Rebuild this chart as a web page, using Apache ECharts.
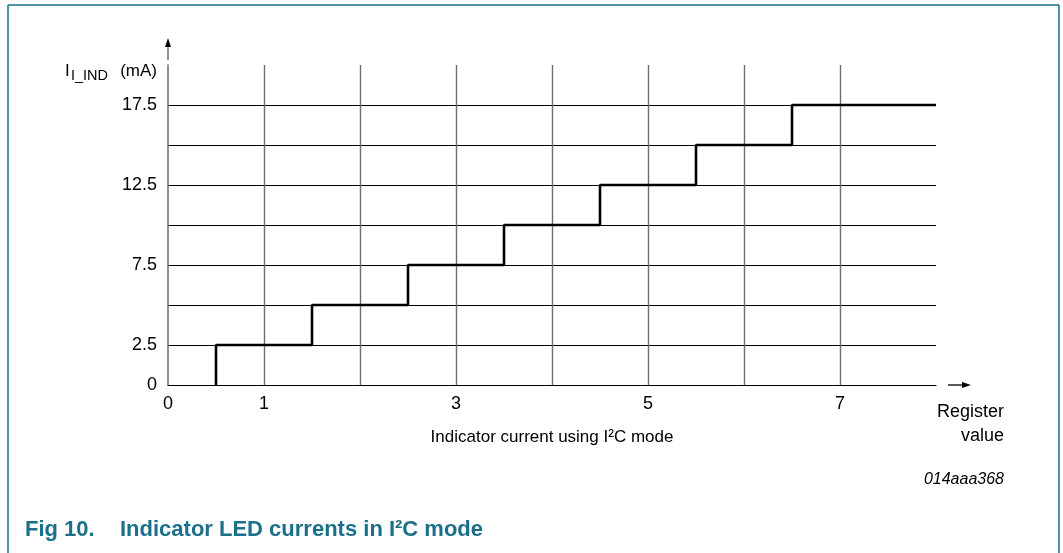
<!DOCTYPE html>
<html><head><meta charset="utf-8">
<script src="https://cdn.jsdelivr.net/npm/echarts@6/dist/echarts.min.js"></script>
<style>html,body{margin:0;padding:0;background:#fff}#c{width:1063px;height:553px}</style>
</head><body><div id="c"></div>
<script>
const registers = [1, 2, 3, 4, 5, 6, 7];
const currents = [2.5, 5, 7.5, 10, 12.5, 15, 17.5];
const xTickLabels = ['0', '1', '3', '5', '7'];
const yTickLabels = ['0', '2.5', '7.5', '12.5', '17.5'];
const xMax = 8, yMax = 20;

// build step path from data
const stepPts = [];
let prev = 0;
registers.forEach((r, i) => {
  stepPts.push([r - 0.5, prev]);
  stepPts.push([r - 0.5, currents[i]]);
  prev = currents[i];
});
stepPts.push([xMax, prev]);

const teal = '#1b6f88';
const font = 'Liberation Sans, Arial, sans-serif';
const G = {left: 168, right: 127, top: 65, bottom: 168};

const chart = echarts.init(document.getElementById('c'), null, {renderer: 'canvas'});
chart.setOption({
  animation: false,
  grid: G,
  xAxis: {
    type: 'value', min: 0, max: xMax, interval: 1,
    axisLine: {show: true, lineStyle: {color: '#000', width: 1.2}},
    axisTick: {show: false},
    splitLine: {show: true, showMinLine: false, showMaxLine: false, lineStyle: {color: '#6e6e6e', width: 1.4}},
    axisLabel: {
      color: '#000', fontSize: 18, fontFamily: font, margin: 10,
      formatter: v => xTickLabels.indexOf(String(v)) >= 0 ? String(v) : ''
    }
  },
  yAxis: {
    type: 'value', min: 0, max: yMax, interval: 2.5,
    axisLine: {show: true, lineStyle: {color: '#6e6e6e', width: 1.5}},
    axisTick: {show: false},
    splitLine: {show: true, showMinLine: false, showMaxLine: false, lineStyle: {color: '#000', width: 1}},
    axisLabel: {
      color: '#000', fontSize: 18, fontFamily: font, margin: 11,
      formatter: v => yTickLabels.indexOf(String(v)) >= 0 ? String(v) : ''
    }
  },
  series: [{
    type: 'line', data: stepPts, symbol: 'none',
    lineStyle: {color: '#000', width: 2.6}, z: 5
  }]
});

const x0 = chart.convertToPixel({xAxisIndex: 0}, 0);
const xE = chart.convertToPixel({xAxisIndex: 0}, xMax);
const y0 = chart.convertToPixel({yAxisIndex: 0}, 0);
const yT = chart.convertToPixel({yAxisIndex: 0}, yMax);
const xMid = (x0 + xE) / 2;

chart.setOption({
  graphic: [
    // frame
    {type: 'line', shape: {x1: 8, y1: 5, x2: 8, y2: 553}, style: {stroke: teal, lineWidth: 1.5}},
    {type: 'line', shape: {x1: 8, y1: 5, x2: 1059, y2: 5}, style: {stroke: teal, lineWidth: 1.5}},
    {type: 'line', shape: {x1: 1059, y1: 5, x2: 1059, y2: 553}, style: {stroke: teal, lineWidth: 1.5}},
    // y arrow
    {type: 'line', shape: {x1: x0, y1: yT - 5, x2: x0, y2: yT - 20}, style: {stroke: '#666', lineWidth: 1.4}},
    {type: 'polygon', shape: {points: [[x0 - 3, yT - 18], [x0 + 3, yT - 18], [x0, yT - 27]]}, style: {fill: '#000'}},
    // x arrow
    {type: 'line', shape: {x1: xE + 12, y1: y0, x2: xE + 28, y2: y0}, style: {stroke: '#000', lineWidth: 1.3}},
    {type: 'polygon', shape: {points: [[xE + 26, y0 - 3], [xE + 26, y0 + 3], [xE + 35, y0]]}, style: {fill: '#000'}},
    // y axis name
    {type: 'text', x: 65, y: 71, style: {text: 'I', font: '17px ' + font, fill: '#000', textVerticalAlign: 'middle'}},
    {type: 'text', x: 71, y: 76, style: {text: 'I_IND', font: '14.5px ' + font, fill: '#000', textVerticalAlign: 'middle'}},
    {type: 'text', x: 157, y: 71, style: {text: '(mA)', font: '17px ' + font, fill: '#000', textAlign: 'right', textVerticalAlign: 'middle'}},
    // x axis name
    {type: 'text', x: xMid, y: 437, style: {text: 'Indicator current using I²C mode', font: '17px ' + font, fill: '#000', textAlign: 'center', textVerticalAlign: 'middle'}},
    {type: 'text', x: 1004, y: 412, style: {text: 'Register', font: '18px ' + font, fill: '#000', textAlign: 'right', textVerticalAlign: 'middle'}},
    {type: 'text', x: 1004, y: 436, style: {text: 'value', font: '18px ' + font, fill: '#000', textAlign: 'right', textVerticalAlign: 'middle'}},
    {type: 'text', x: 1004, y: 480, style: {text: '014aaa368', font: 'italic 16px ' + font, fill: '#000', textAlign: 'right', textVerticalAlign: 'middle'}},
    // caption
    {type: 'text', x: 25, y: 530, style: {text: 'Fig 10.', font: 'bold 22px ' + font, fill: teal, textVerticalAlign: 'middle'}},
    {type: 'text', x: 120, y: 530, style: {text: 'Indicator LED currents in I²C mode', font: 'bold 22px ' + font, fill: teal, textVerticalAlign: 'middle'}}
  ]
});
</script></body></html>
